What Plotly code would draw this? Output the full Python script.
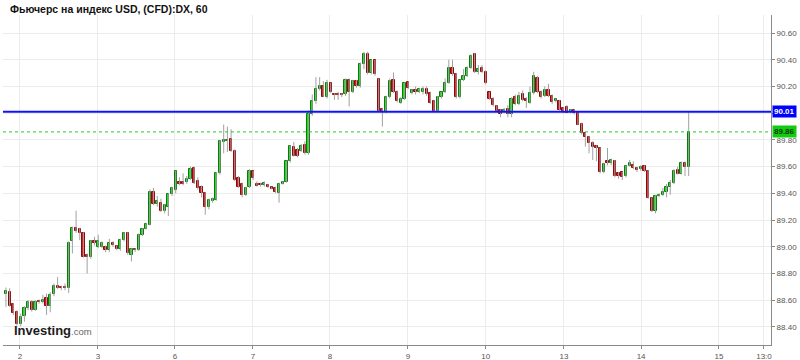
import plotly.graph_objects as go

title_text = "Фьючерс на индекс USD, (CFD):DX, 60"

opens = [88.645, 88.66, 88.57, 88.51, 88.425, 88.48, 88.545, 88.59, 88.525, 88.595,
         88.59, 88.615, 88.555, 88.645, 88.705, 88.70, 88.70, 88.69, 89.04, 89.14,
         89.13, 89.10, 88.94, 88.925, 89.04, 89.00, 89.00, 89.00, 88.975, 89.03,
         89.005, 88.98, 89.05, 89.10, 88.94, 88.985, 88.975, 89.09, 89.135, 89.165,
         89.41, 89.32, 89.33, 89.265, 89.30, 89.395, 89.425, 89.485, 89.485, 89.485,
         89.51, 89.59, 89.495, 89.45, 89.40, 89.30, 89.345, 89.35, 89.55, 89.785,
         89.79, 89.81, 89.72, 89.515, 89.47, 89.39, 89.45, 89.565, 89.47, 89.47,
         89.46, 89.465, 89.445, 89.44, 89.40, 89.47, 89.485, 89.64, 89.745, 89.725,
         89.72, 89.765, 89.70, 89.995, 90.09, 90.18, 90.20, 90.125, 90.225, 90.145,
         90.145, 90.14, 90.14, 90.25, 90.16, 90.24, 90.20, 90.37, 90.44, 90.30,
         90.395, 90.255, 90.035, 90.01, 90.12, 90.25, 90.16, 90.08, 90.11, 90.23,
         90.15, 90.17, 90.16, 90.16, 90.18, 90.15, 90.095, 90.02, 90.12, 90.155,
         90.225, 90.34, 90.29, 90.12, 90.245, 90.275, 90.34, 90.44, 90.31, 90.34,
         90.31, 90.155, 90.11, 90.055, 90.025, 90.01, 90.03, 89.995, 90.125, 90.07,
         90.14, 90.105, 90.08, 90.15, 90.26, 90.16, 90.13, 90.175, 90.13, 90.09,
         90.09, 90.04, 90.045, 90.01, 90.025, 90.005, 89.92, 89.855, 89.825, 89.78,
         89.755, 89.74, 89.557, 89.645, 89.625, 89.64, 89.55, 89.557, 89.53, 89.607,
         89.615, 89.59, 89.58, 89.607, 89.57, 89.365, 89.27, 89.38, 89.39, 89.41,
         89.45, 89.475, 89.575, 89.545, 89.63, 89.595]

highs = [88.695, 88.69, 88.58, 88.525, 88.50, 88.555, 88.60, 88.60, 88.60, 88.605,
         88.64, 88.65, 88.66, 88.725, 88.775, 88.71, 88.725, 89.04, 89.15, 89.27,
         89.14, 89.11, 88.95, 89.05, 89.075, 89.09, 89.04, 89.01, 89.06, 89.04,
         89.01, 89.06, 89.11, 89.11, 88.99, 88.99, 89.10, 89.14, 89.18, 89.43,
         89.44, 89.38, 89.36, 89.32, 89.40, 89.45, 89.57, 89.52, 89.55, 89.53,
         89.60, 89.60, 89.52, 89.46, 89.41, 89.36, 89.37, 89.56, 89.80, 89.915,
         89.90, 89.88, 89.73, 89.53, 89.48, 89.45, 89.58, 89.57, 89.49, 89.48,
         89.49, 89.47, 89.45, 89.45, 89.48, 89.49, 89.645, 89.76, 89.785, 89.74,
         89.77, 89.79, 90.02, 90.14, 90.27, 90.27, 90.24, 90.25, 90.23, 90.15,
         90.16, 90.15, 90.26, 90.26, 90.25, 90.25, 90.38, 90.46, 90.46, 90.40,
         90.40, 90.26, 90.04, 90.13, 90.26, 90.305, 90.17, 90.12, 90.23, 90.24,
         90.18, 90.20, 90.19, 90.20, 90.20, 90.16, 90.10, 90.13, 90.16, 90.26,
         90.40, 90.40, 90.30, 90.25, 90.33, 90.35, 90.44, 90.45, 90.36, 90.36,
         90.32, 90.16, 90.12, 90.06, 90.03, 90.04, 90.06, 90.12, 90.14, 90.16,
         90.17, 90.12, 90.20, 90.31, 90.28, 90.17, 90.20, 90.22, 90.14, 90.11,
         90.10, 90.045, 90.06, 90.03, 90.03, 90.01, 89.93, 89.86, 89.83, 89.79,
         89.76, 89.745, 89.63, 89.74, 89.66, 89.65, 89.56, 89.56, 89.61, 89.65,
         89.64, 89.60, 89.61, 89.61, 89.575, 89.37, 89.39, 89.40, 89.44, 89.47,
         89.50, 89.58, 89.60, 89.64, 89.64, 90.015]

lows = [88.55, 88.55, 88.49, 88.41, 88.405, 88.44, 88.525, 88.515, 88.52, 88.575,
        88.575, 88.49, 88.51, 88.63, 88.685, 88.675, 88.675, 88.655, 88.95, 89.105,
        89.05, 88.92, 88.80, 88.91, 89.01, 88.99, 88.99, 88.96, 88.96, 89.00,
        88.975, 88.97, 89.04, 88.94, 88.89, 88.96, 88.97, 89.08, 89.13, 89.16,
        89.31, 89.30, 89.26, 89.25, 89.23, 89.38, 89.40, 89.46, 89.46, 89.47,
        89.50, 89.47, 89.43, 89.37, 89.24, 89.28, 89.33, 89.345, 89.54, 89.70,
        89.71, 89.71, 89.49, 89.44, 89.37, 89.38, 89.44, 89.50, 89.45, 89.45,
        89.45, 89.44, 89.43, 89.40, 89.33, 89.465, 89.48, 89.63, 89.675, 89.67,
        89.71, 89.69, 89.69, 89.98, 90.07, 90.17, 90.12, 90.11, 90.15, 90.10,
        90.10, 90.12, 90.13, 90.05, 90.15, 90.19, 90.19, 90.33, 90.29, 90.29,
        90.28, 90.01, 89.90, 90.00, 90.11, 90.15, 90.08, 90.07, 90.10, 90.18,
        90.14, 90.14, 90.15, 90.14, 90.13, 90.07, 90.01, 90.01, 90.11, 90.15,
        90.22, 90.28, 90.11, 90.11, 90.24, 90.27, 90.33, 90.30, 90.29, 90.30,
        90.215, 90.10, 90.05, 90.01, 89.97, 90.00, 89.97, 89.97, 90.06, 90.06,
        90.09, 90.04, 90.07, 90.14, 90.15, 90.11, 90.12, 90.12, 90.07, 90.08,
        90.02, 90.00, 90.00, 90.00, 89.99, 89.91, 89.84, 89.75, 89.70, 89.65,
        89.64, 89.55, 89.55, 89.61, 89.61, 89.52, 89.51, 89.50, 89.52, 89.60,
        89.58, 89.56, 89.57, 89.56, 89.36, 89.26, 89.25, 89.37, 89.38, 89.37,
        89.39, 89.47, 89.54, 89.54, 89.53, 89.53]

closes = [88.67, 88.56, 88.505, 88.425, 88.475, 88.54, 88.59, 88.525, 88.59, 88.585,
          88.605, 88.555, 88.64, 88.705, 88.695, 88.69, 88.69, 89.025, 89.14, 89.115,
          89.10, 88.925, 88.925, 89.04, 89.025, 89.04, 89.025, 88.975, 89.025, 89.015,
          88.98, 89.05, 89.10, 88.95, 88.98, 88.975, 89.09, 89.135, 89.17, 89.41,
          89.32, 89.345, 89.27, 89.31, 89.395, 89.44, 89.565, 89.47, 89.47, 89.51,
          89.58, 89.48, 89.44, 89.40, 89.295, 89.35, 89.36, 89.55, 89.79, 89.80,
          89.80, 89.72, 89.50, 89.45, 89.385, 89.44, 89.57, 89.515, 89.455, 89.46,
          89.475, 89.445, 89.435, 89.41, 89.47, 89.485, 89.64, 89.757, 89.68, 89.68,
          89.757, 89.70, 89.995, 90.09, 90.18, 90.20, 90.125, 90.225, 90.16, 90.135,
          90.135, 90.135, 90.25, 90.16, 90.24, 90.20, 90.37, 90.44, 90.30, 90.395,
          90.29, 90.02, 90.01, 90.12, 90.24, 90.16, 90.09, 90.11, 90.225, 90.19,
          90.175, 90.155, 90.18, 90.18, 90.14, 90.08, 90.02, 90.12, 90.155, 90.225,
          90.34, 90.29, 90.12, 90.245, 90.275, 90.34, 90.425, 90.31, 90.33, 90.31,
          90.225, 90.11, 90.06, 90.02, 89.995, 90.025, 89.995, 90.11, 90.07, 90.13,
          90.10, 90.09, 90.15, 90.275, 90.16, 90.125, 90.17, 90.13, 90.085, 90.105,
          90.025, 90.01, 90.005, 90.025, 90.00, 89.915, 89.85, 89.82, 89.775, 89.745,
          89.74, 89.557, 89.62, 89.625, 89.65, 89.53, 89.53, 89.525, 89.607, 89.625,
          89.59, 89.575, 89.60, 89.57, 89.365, 89.27, 89.38, 89.39, 89.41, 89.45,
          89.475, 89.57, 89.545, 89.63, 89.595, 89.86]

day_labels = ["2", "3", "6", "7", "8", "9", "10", "13", "14", "15", "13:0"]
day_tick_pos = [3.8, 24.9, 45.8, 66.9, 87.8, 108.9, 130.0, 151.2, 172.1, 193.2, 205.4]
y_tick_values = [88.40, 88.60, 88.80, 89.00, 89.20, 89.40, 89.60, 89.80, 90.00, 90.20, 90.40, 90.60]
# 90.00 sits under the 90.01 price tag in the original, so its text is hidden
y_tick_texts = ["88.40", "88.60", "88.80", "89.00", "89.20", "89.40", "89.60", "89.80", "", "90.20", "90.40", "90.60"]

level_line = 90.01
last_price = 89.86

FONT = "Liberation Sans, Arial, sans-serif"
GREEN_FILL = "#1fdc1f"
GREEN_LINE = "#0a7a0a"
RED_FILL = "#e3141b"
RED_LINE = "#8a0a0a"

n = len(closes)
idx = list(range(n))

# wicks
wx, wy = [], []
for i in idx:
    wx += [i, i, None]
    wy += [lows[i], highs[i], None]

fig = go.Figure()
fig.add_trace(go.Scatter(x=wx, y=wy, mode="lines",
                         line=dict(color="#a0a0a0", width=1),
                         hoverinfo="skip", showlegend=False))

up_x, up_b, up_h = [], [], []
dn_x, dn_b, dn_h = [], [], []
for i in idx:
    o, c = opens[i], closes[i]
    h = max(abs(c - o), 0.004)
    if c >= o:
        up_x.append(i); up_b.append(o); up_h.append(h)
    else:
        dn_x.append(i); dn_b.append(c); dn_h.append(h)

fig.add_trace(go.Bar(x=up_x, y=up_h, base=up_b, width=0.6,
                     marker=dict(color=GREEN_FILL, line=dict(color=GREEN_LINE, width=1)),
                     hoverinfo="skip", showlegend=False))
fig.add_trace(go.Bar(x=dn_x, y=dn_h, base=dn_b, width=0.6,
                     marker=dict(color=RED_FILL, line=dict(color=RED_LINE, width=1)),
                     hoverinfo="skip", showlegend=False))

fig.add_shape(type="line", xref="paper", x0=0, x1=1, yref="y", y0=level_line, y1=level_line,
              line=dict(color="#1010ff", width=2))
fig.add_shape(type="line", xref="paper", x0=0, x1=1, yref="y", y0=last_price, y1=last_price,
              line=dict(color="#22cc22", width=1, dash="dot"))

fig.add_annotation(xref="paper", x=1.0, xanchor="left", yref="y", y=level_line,
                   text="<b>%.2f</b>" % level_line, showarrow=False,
                   bgcolor="#0000ff", font=dict(color="white", size=8, family=FONT),
                   borderpad=1, xshift=1)
fig.add_annotation(xref="paper", x=1.0, xanchor="left", yref="y", y=last_price,
                   text="<b>%.2f</b>" % last_price, showarrow=False,
                   bgcolor="#11cc11", font=dict(color="#0b3d0b", size=8, family=FONT),
                   borderpad=1, xshift=1)

fig.add_annotation(xref="paper", yref="paper", x=0.006, y=1.018, xanchor="left", yanchor="middle",
                   text="<b>" + title_text + "</b>", showarrow=False,
                   font=dict(size=10.5, color="#111", family=FONT))

fig.add_annotation(xref="paper", yref="paper", x=0.012, y=0.045, xanchor="left", yanchor="middle",
                   text="<b>Investing</b><span style='font-size:9.5px;color:#666'>.com</span>",
                   showarrow=False, font=dict(size=13, color="#1b1b1b", family=FONT))

fig.update_layout(
    width=800, height=360,
    margin=dict(l=3, r=29, t=15, b=15),
    paper_bgcolor="white", plot_bgcolor="white",
    barmode="overlay", bargap=0,
    showlegend=False, hovermode=False,
    font=dict(family=FONT, size=8, color="#555"),
    xaxis=dict(range=[-0.8, 207.3], tickmode="array", tickvals=day_tick_pos, ticktext=day_labels,
               showgrid=True, gridcolor="#ececec", gridwidth=1, zeroline=False,
               showline=True, linecolor="#8a8a8a", linewidth=1,
               ticks="outside", ticklen=3, tickcolor="#8a8a8a",
               tickfont=dict(size=8, color="#555"), automargin=False),
    yaxis=dict(range=[88.265, 90.735], side="right", tickmode="array", tickvals=y_tick_values,
               ticktext=y_tick_texts, showgrid=True, gridcolor="#ececec", gridwidth=1, zeroline=False,
               showline=True, linecolor="#8a8a8a", linewidth=1,
               ticks="outside", ticklen=3, tickcolor="#8a8a8a",
               tickfont=dict(size=8, color="#555"), automargin=False),
)

fig.write_html("out.html", config={"displayModeBar": False},
               post_script="document.body.style.margin='0px';document.body.style.overflow='hidden';")
